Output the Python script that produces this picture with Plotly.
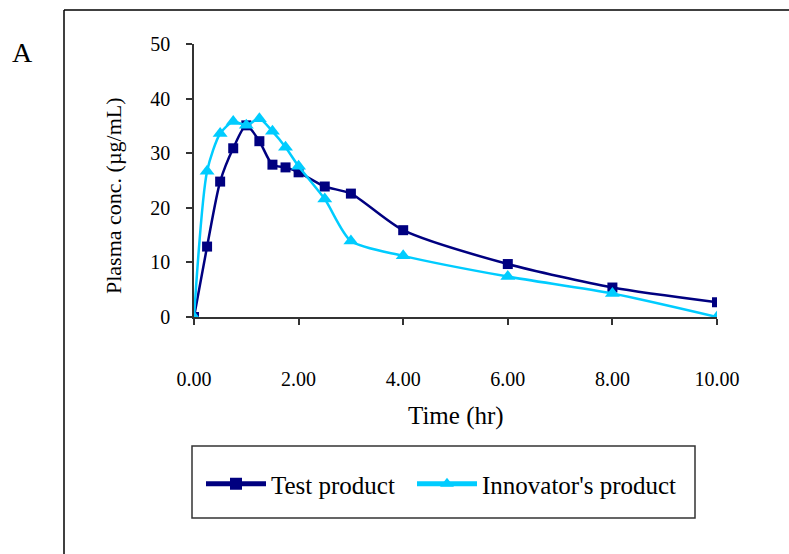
import plotly.graph_objects as go

# Sampling times (hr)
time_hr = [0, 0.25, 0.5, 0.75, 1.0, 1.25, 1.5, 1.75, 2.0, 2.5, 3.0, 4.0, 6.0, 8.0, 10.0]

# Mean plasma concentrations (ug/mL)
test_conc = [0, 12.9, 24.8, 30.9, 35.1, 32.2, 27.9, 27.4, 26.5, 23.9, 22.6, 15.9, 9.7, 5.4, 2.7]
innovator_conc = [0, 26.7, 33.6, 35.8, 35.1, 36.3, 34.0, 31.1, 27.6, 21.6, 13.9, 11.2, 7.4, 4.3, 0]

x_ticks = [0, 2, 4, 6, 8, 10]
x_tick_labels = ["0.00", "2.00", "4.00", "6.00", "8.00", "10.00"]
y_ticks = [0, 10, 20, 30, 40, 50]

W, H = 789, 554
ML, MR, MT, MB = 194, 72, 44, 237
PW, PH = W - ML - MR, H - MT - MB

def px(x):
    return (x - ML) / PW

def py(y):
    return (H - MB - y) / PH

FONT = "Liberation Serif"
NAVY = "#000080"
CYAN = "#00CCFF"

fig = go.Figure()
fig.add_trace(go.Scatter(
    x=time_hr, y=test_conc, name="Test product", legend="legend",
    mode="lines+markers",
    line=dict(color=NAVY, width=2.5, shape="spline", smoothing=0.7),
    marker=dict(symbol="square", size=10, color=NAVY),
))
fig.add_trace(go.Scatter(
    x=time_hr, y=innovator_conc, name="Innovator's product", legend="legend2",
    mode="lines+markers",
    line=dict(color=CYAN, width=2.5, shape="spline", smoothing=0.7),
    marker=dict(symbol="triangle-up", size=13, color=CYAN),
))

axis_common = dict(
    showgrid=False, zeroline=False, showline=True, linecolor="#333333",
    linewidth=1.5, ticks="outside", ticklen=6, tickcolor="#333333", tickwidth=1.5,
    tickfont=dict(family=FONT, size=20, color="black"),
)

fig.update_xaxes(range=[0, 10], tickvals=x_ticks, ticktext=x_tick_labels,
                 ticklabelstandoff=37, **axis_common)
fig.update_yaxes(range=[0, 50], tickvals=y_ticks, ticklabelstandoff=12, **axis_common)

# outer frame (left and top edges)
frame = dict(type="line", xref="paper", yref="paper",
             line=dict(color="black", width=1.5), layer="above")
fig.add_shape(x0=px(64), x1=px(64), y0=py(10), y1=py(560), **frame)
fig.add_shape(x0=px(64), x1=px(795), y0=py(10), y1=py(10), **frame)

# legend box
fig.add_shape(type="rect", xref="paper", yref="paper",
              x0=px(192), x1=px(695), y0=py(446), y1=py(518),
              line=dict(color="#333333", width=1.5), fillcolor="rgba(0,0,0,0)")

label = dict(xref="paper", yref="paper", showarrow=False,
             xanchor="center", yanchor="middle")
fig.add_annotation(x=px(456), y=py(416), text="Time (hr)",
                   font=dict(family=FONT, size=25, color="black"), **label)
fig.add_annotation(x=px(113), y=py(196), text="Plasma conc. (µg/mL)", textangle=-90,
                   font=dict(family=FONT, size=22, color="black"), **label)
fig.add_annotation(x=px(22), y=py(52), text="A",
                   font=dict(family=FONT, size=28, color="black"), **label)

legend_common = dict(orientation="h", xanchor="left", yanchor="middle",
                     font=dict(family=FONT, size=25, color="black"),
                     itemwidth=60, bgcolor="rgba(0,0,0,0)", borderwidth=0,
                     itemsizing="constant")

fig.update_layout(
    width=W, height=H,
    margin=dict(l=ML, r=MR, t=MT, b=MB),
    paper_bgcolor="white", plot_bgcolor="white",
    font=dict(family=FONT, color="black"),
    showlegend=True,
    legend=dict(x=px(201), y=py(484), **legend_common),
    legend2=dict(x=px(412), y=py(484), **legend_common),
)

fig.write_html("out.html")
